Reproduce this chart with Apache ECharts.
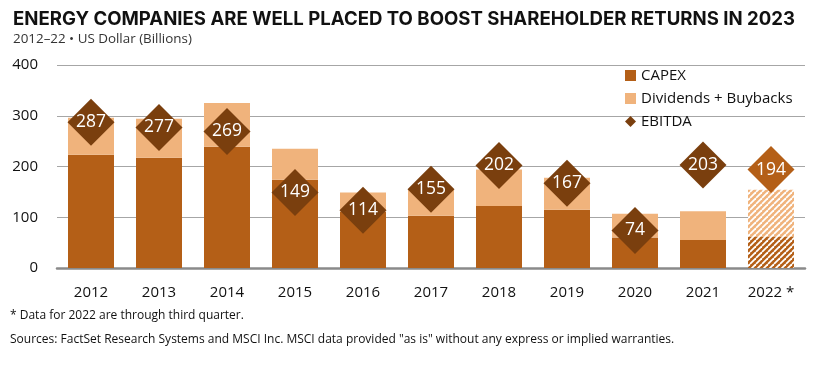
<!DOCTYPE html>
<html><head><meta charset="utf-8">
<script src="https://cdn.jsdelivr.net/npm/echarts@6/dist/echarts.min.js"></script>
<style>html,body{margin:0;padding:0;background:#fff}#c{width:833px;height:369px}</style>
</head><body><div id="c"></div>
<script>
var years = ['2012','2013','2014','2015','2016','2017','2018','2019','2020','2021','2022 *'];
var capex = [223, 217, 239, 174, 111, 103, 122, 115, 60, 55, 62];
var divBuy = [73, 77, 86, 61, 38, 52, 72, 63, 47, 57, 92];
var ebitda = [287, 277, 269, 149, 114, 155, 202, 167, 74, 203, 194];
var yTicks = [0, 100, 200, 300, 400];

var C_CAPEX = '#B45F17', C_DIV = '#F0B37C', C_EB = '#7A3F0E';
var FONT = 'Open Sans, sans-serif';

function hatch(color){
  var cv = document.createElement('canvas'); cv.width = 6; cv.height = 6;
  var g = cv.getContext('2d');
  g.fillStyle = color; g.fillRect(0,0,6,6);
  g.strokeStyle = '#ffffff'; g.lineWidth = 1.8;
  [-6,0,6].forEach(function(k){ g.beginPath(); g.moveTo(k,6); g.lineTo(k+6,0); g.stroke(); });
  return {image: cv, repeat: 'repeat'};
}
var last = years.length - 1;
var capexData = capex.map(function(v,i){ return i===last ? {value:v, itemStyle:{color:hatch(C_CAPEX)}} : v; });
var divData = divBuy.map(function(v,i){ return i===last ? {value:v, itemStyle:{color:hatch(C_DIV)}} : v; });
var ebData = ebitda.map(function(v,i){ return i===last ? {value:v, itemStyle:{color:C_CAPEX}} : v; });

var chart = echarts.init(document.getElementById('c'), null, {renderer:'canvas'});
chart.setOption({
  animation:false,
  title:[
    {text:'ENERGY COMPANIES ARE WELL PLACED TO BOOST SHAREHOLDER RETURNS IN 2023', left:8, top:5,
     textStyle:{fontFamily:'Inter, sans-serif', fontWeight:700, fontSize:18.6, color:'#111'}},
    {text:'2012\u201322 \u2022 US Dollar (Billions)', left:8, top:28,
     textStyle:{fontFamily:FONT, fontWeight:400, fontSize:13.4, color:'#333'}},
    {text:'* Data for 2022 are through third quarter.', left:5, top:305,
     textStyle:{fontFamily:FONT, fontWeight:400, fontSize:12, color:'#111'}},
    {text:'Sources: FactSet Research Systems and MSCI Inc. MSCI data provided "as is" without any express or implied warranties.', left:5, top:329,
     textStyle:{fontFamily:FONT, fontWeight:400, fontSize:12, color:'#111'}}
  ],
  legend:{orient:'vertical', left:620, top:63, itemGap:8, itemWidth:11, itemHeight:11,
    textStyle:{fontFamily:FONT, fontSize:15, color:'#111'},
    data:[{name:'CAPEX', icon:'rect'},{name:'Dividends + Buybacks', icon:'rect'},{name:'EBITDA', icon:'diamond'}]},
  grid:{left:57, right:28, top:65, bottom:101},
  xAxis:{type:'category', data:years,
    axisLine:{lineStyle:{color:'#8a8a8a', width:2.5}}, axisTick:{show:false},
    axisLabel:{fontFamily:FONT, fontSize:15, color:'#111', margin:17}},
  yAxis:{type:'value', min:0, max:400, interval:100,
    axisLine:{show:false}, axisTick:{show:false},
    axisLabel:{fontFamily:FONT, fontSize:15, color:'#111', margin:19},
    splitLine:{lineStyle:{color:'#a6a6a6', width:1}}},
  series:[
    {name:'CAPEX', type:'bar', stack:'s', data:capexData, barWidth:46, itemStyle:{color:C_CAPEX}},
    {name:'Dividends + Buybacks', type:'bar', stack:'s', data:divData, barWidth:46, itemStyle:{color:C_DIV}},
    {name:'EBITDA', type:'scatter', data:ebData, symbol:'diamond', symbolSize:47, z:5,
     itemStyle:{color:C_EB, opacity:1},
     label:{show:true, position:'inside', color:'#fff', fontFamily:FONT, fontSize:17.5}}
  ]
});
</script></body></html>
